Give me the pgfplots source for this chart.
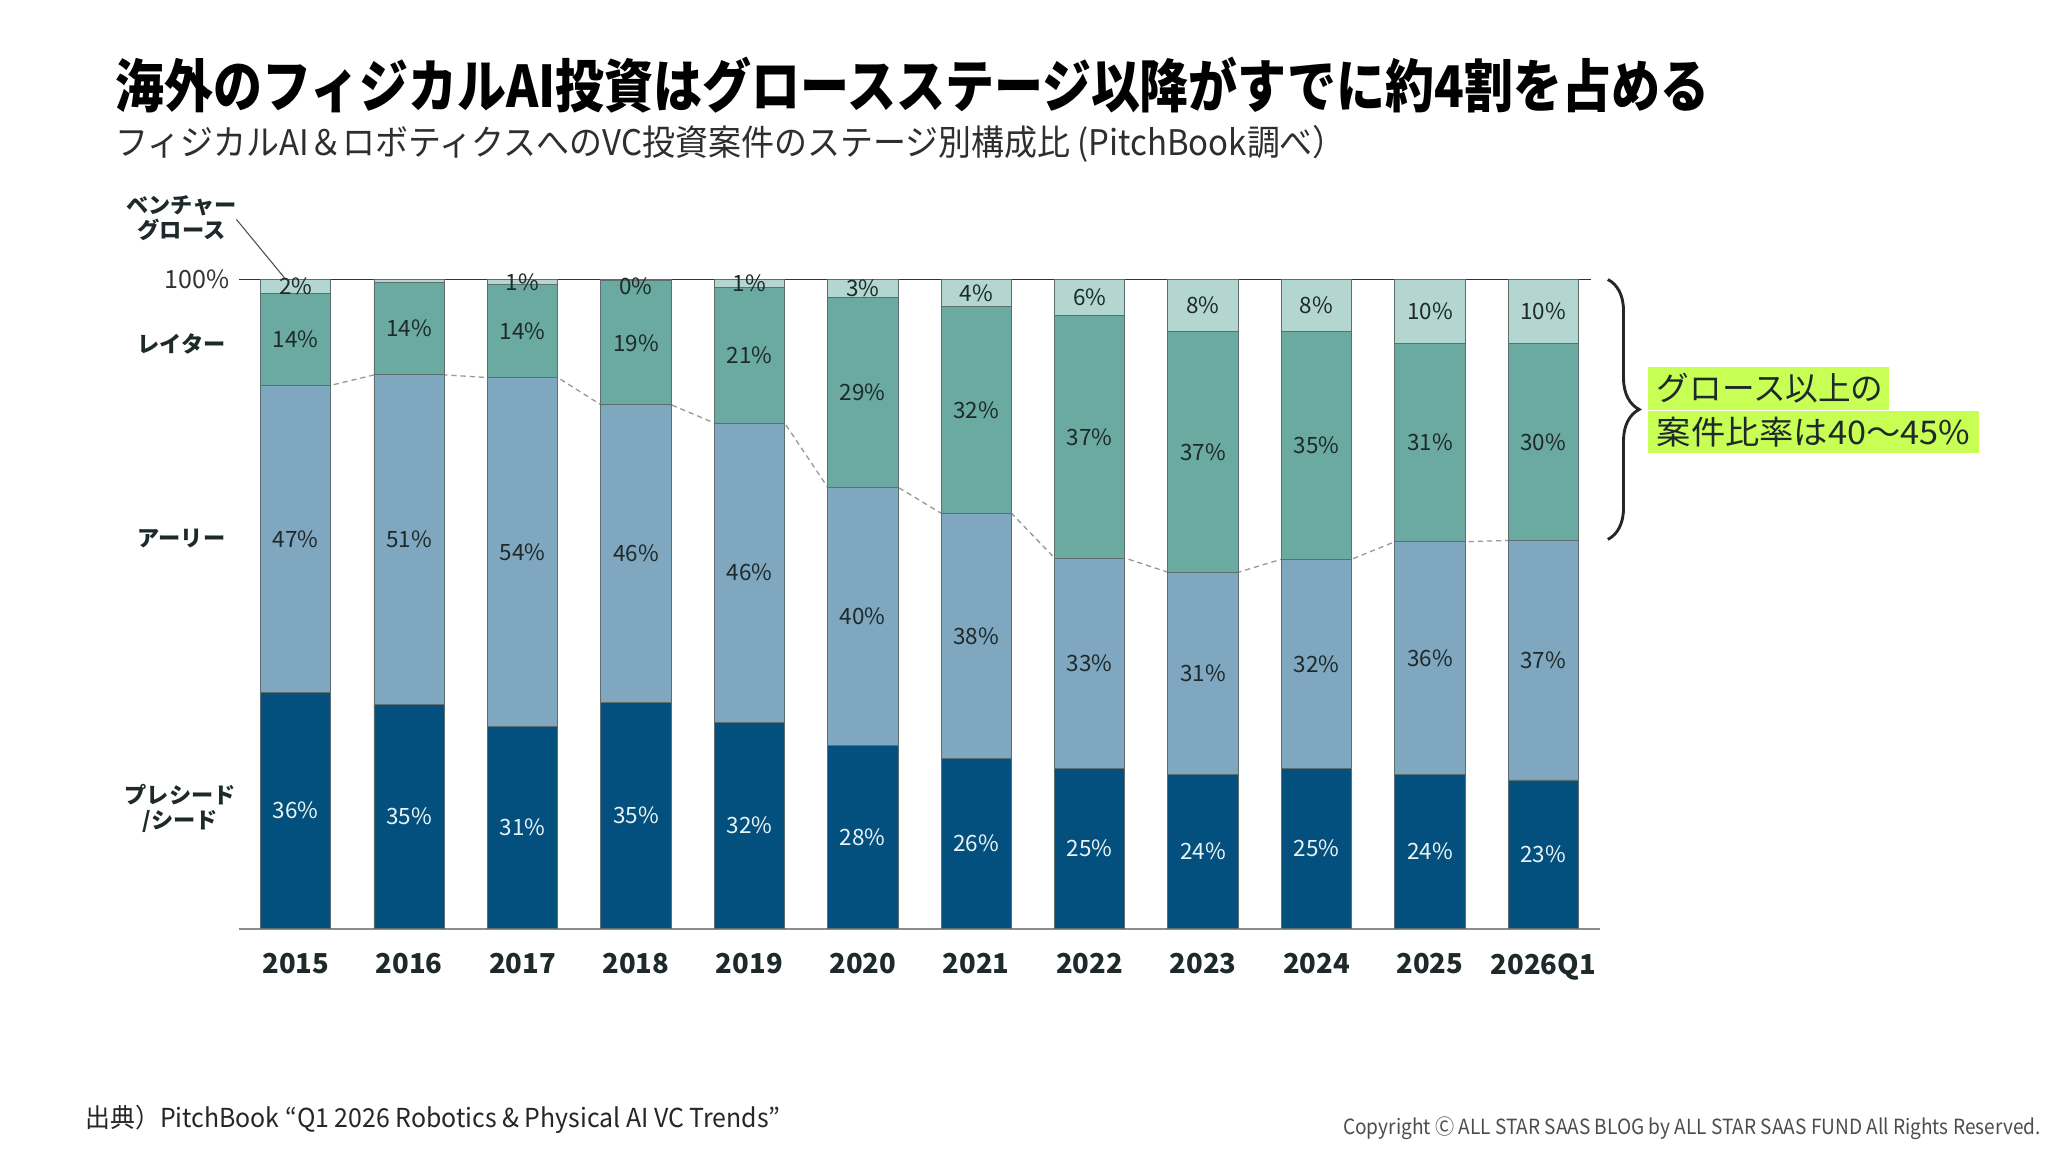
\documentclass[border=0pt]{standalone}
\usepackage{pgfplots}
\pgfplotsset{compat=1.18}
\usepackage{pgfplotstable}
\usepackage{graphicx}
\usepackage{fontspec}
\setmainfont{Noto Sans CJK JP}
\usetikzlibrary{decorations.pathreplacing}
\definecolor{cPre}{HTML}{03507F}
\definecolor{cEarly}{HTML}{7FA7C0}
\definecolor{cLater}{HTML}{6BAAA0}
\definecolor{cGrowth}{HTML}{B3D6D1}
\definecolor{cEdge}{HTML}{5E6E6E}
\definecolor{cText}{HTML}{1E2A2A}
\definecolor{cLime}{HTML}{C8FF55}
\definecolor{cWhiteT}{HTML}{EAF4F4}
% stage shares (%): a = pre-seed/seed, b = early, c = later, d = venture growth
\pgfplotstableread{
x a b c d
0 36.4 47.3 14.1 2.2
1 34.6 50.7 14.3 0.4
2 31.2 53.7 14.3 0.8
3 34.8 45.9 19.1 0.2
4 31.8 46.1 20.9 1.2
5 28.2 39.8 29.2 2.8
6 26.2 37.8 31.8 4.2
7 24.7 32.4 37.3 5.6
8 23.7 31.2 37.1 8.0
9 24.7 32.2 35.1 8.0
10 23.7 35.9 30.5 9.9
11 22.9 36.9 30.3 9.9
}\data
% label positions and printed labels
\pgfplotstableread{
x pa pb pc la lb lc
0 18.2 60.05 90.75 36 47 14
1 17.3 59.95 92.45 35 51 14
2 15.6 58.05 92.05 31 54 14
3 17.4 57.75 90.25 35 46 19
4 15.9 54.85 88.35 32 46 21
5 14.1 48.1 82.6 28 40 29
6 13.1 45.1 79.9 26 38 32
7 12.35 40.9 75.75 25 33 37
8 11.85 39.3 73.45 24 31 37
9 12.35 40.8 74.45 25 32 35
10 11.85 41.65 74.85 24 36 31
11 11.45 41.35 74.95 23 37 30
}\lab
\pgfplotstableread{
x pd ld
0 99.0 2
2 99.6 1
3 99.0 0
4 99.4 1
5 98.6 3
6 97.9 4
7 97.2 6
8 96.0 8
9 96.0 8
10 95.05 10
11 95.05 10
}\labd
\begin{document}
\begin{tikzpicture}
\path[use as bounding box, fill=white] (0,0) rectangle (784pt,441pt);
\pgfplotsset{geom/.style={at={(91.5pt,85.5pt)}, anchor=south west, scale only axis,
  width=521pt, height=248.5pt, xmin=-0.5, xmax=11.5, ymin=0, ymax=100}}
\begin{axis}[geom, hide axis]
\addplot[dash pattern=on 2pt off 1.5pt, color=black!40, line width=0.5pt] coordinates {
(-0.31,83.7) (0.31,83.7) (0.69,85.3) (1.31,85.3) (1.69,84.9) (2.31,84.9)
(2.69,80.7) (3.31,80.7) (3.69,77.9) (4.31,77.9) (4.69,68.0) (5.31,68.0)
(5.69,64.0) (6.31,64.0) (6.69,57.1) (7.31,57.1) (7.69,54.9) (8.31,54.9)
(8.69,56.9) (9.31,56.9) (9.69,59.6) (10.31,59.6) (10.69,59.8) (11.31,59.8)};
\end{axis}
\begin{axis}[geom,
  ybar stacked, bar width=0.62,
  axis x line*=bottom, axis y line*=left,
  x axis line style={draw=black!45, line width=0.7pt, -},
  y axis line style={draw=none},
  xtick={0,...,11},
  xticklabels={2015,2016,2017,2018,2019,2020,2021,2022,2023,2024,2025,2026Q1},
  ytick={100}, yticklabels={100\%},
  tick style={draw=none},
  xticklabel style={font=\fontsize{10.5}{12}\selectfont\bfseries, text=cText, yshift=-6pt},
  yticklabel style={font=\fontsize{9.6}{11}\selectfont, text=black!80},
]
\addplot[fill=cPre, draw=cEdge, line width=0.35pt] table[x=x,y=a]{\data};
\addplot[fill=cEarly, draw=cEdge, line width=0.35pt] table[x=x,y=b]{\data};
\addplot[fill=cLater, draw=cEdge, line width=0.35pt] table[x=x,y=c]{\data};
\addplot[fill=cGrowth, draw=cEdge, line width=0.35pt] table[x=x,y=d]{\data};
\draw[black!80, line width=0.6pt] (axis cs:-0.5,100) -- (axis cs:11.42,100);
\end{axis}
\begin{axis}[geom, hide axis, point meta=explicit symbolic,
  nodes near coords={\pgfplotspointmeta\%},
  every node near coord/.append style={anchor=center, inner sep=0pt,
    font=\fontsize{8.6}{10}\selectfont, text=cText}]
\addplot[draw=none, mark=none, every node near coord/.append style={text=cWhiteT}] table[x=x,y=pa,meta=la]{\lab};
\addplot[draw=none, mark=none] table[x=x,y=pb,meta=lb]{\lab};
\addplot[draw=none, mark=none] table[x=x,y=pc,meta=lc]{\lab};
\addplot[draw=none, mark=none] table[x=x,y=pd,meta=ld]{\labd};
\end{axis}
\begin{scope}[x=0.5pt, y=-0.5pt, shift={(0pt,441pt)}]
\node[anchor=west, inner sep=0pt, text=black] at (88,65)
  {\resizebox{610pt}{\height}{\fontsize{22}{26}\selectfont\bfseries 海外のフィジカルAI投資はグロースステージ以降がすでに約4割を占める}};
\node[anchor=west, inner sep=0pt, text=black!82] at (88,110.5)
  {\resizebox{471pt}{\height}{\fontsize{13.5}{16}\selectfont フィジカルAI＆ロボティクスへのVC投資案件のステージ別構成比 (PitchBook調べ）}};
\begin{scope}[every node/.style={align=center, inner sep=0pt, text=cText, font=\fontsize{8.5}{9.5}\selectfont\bfseries}]
\node at (139,167) {ベンチャー\\グロース};
\node at (139,263) {レイター};
\node at (139,412) {アーリー};
\node at (138,619) {プレシード\\/シード};
\end{scope}
\draw[black!70, line width=0.4pt] (181,168) -- (218,213);
\draw[decorate, decoration={brace, amplitude=12pt}, line width=1.1pt, black!85] (1231,214) -- (1231,413);
\fill[cLime] (1262,281) rectangle (1446,314);
\fill[cLime] (1262,315) rectangle (1515,347);
\node[anchor=west, inner sep=0pt, text=cText, font=\fontsize{12.5}{14}\selectfont] at (1268,297.5) {グロース以上の};
\node[anchor=west, inner sep=0pt, text=cText, font=\fontsize{12.5}{14}\selectfont] at (1268,331) {\resizebox{120pt}{\height}{案件比率は40〜45\%}};
\node[anchor=west, inner sep=0pt, text=black!85] at (65,857)
  {\resizebox{266pt}{\height}{\fontsize{10}{12}\selectfont 出典）PitchBook “Q1 2026 Robotics \& Physical AI VC Trends”}};
\node[anchor=west, inner sep=0pt, text=black!70] at (1028,864)
  {\resizebox{267pt}{\height}{\fontsize{8}{10}\selectfont Copyright Ⓒ ALL STAR SAAS BLOG by ALL STAR SAAS FUND All Rights Reserved.}};
\end{scope}
\end{tikzpicture}
\end{document}
